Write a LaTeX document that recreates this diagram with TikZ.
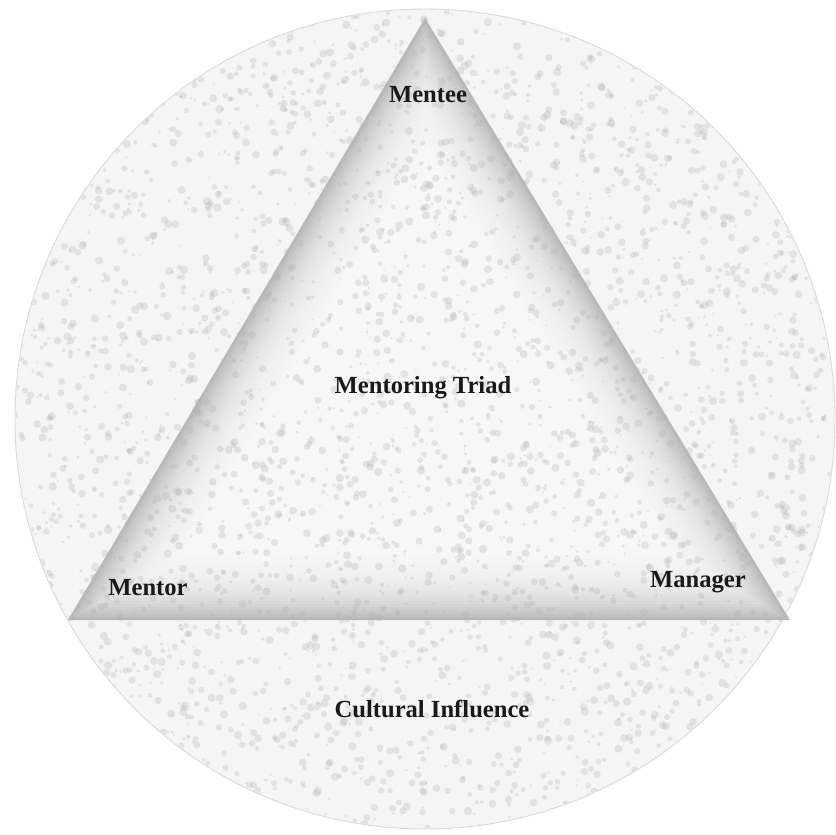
\documentclass[tikz,border=0pt]{standalone}
\usepackage{fontspec}
\setmainfont{Liberation Serif}
\usetikzlibrary{calc}

\begin{document}
\begin{tikzpicture}[
    x=0.03cm, y=-0.03cm,
    tag/.style={
        font=\fontsize{21}{24}\selectfont\bfseries,
        text=black!90,
        inner sep=1pt
    },
    ring/.style={
        fill=gray!8,
        draw=gray!28,
        line width=0.8pt
    },
    speck/.style={fill=gray!60, opacity=0.28}
]
\useasboundingbox (0,0) rectangle (835,835);

\coordinate (c) at (425,419);
\coordinate (top) at (425,18);
\coordinate (left) at (68,620);
\coordinate (right) at (790,620);
\coordinate (mid) at (428,419);

% outer circle
\fill[ring] (c) circle (410);

% triangle with inner glow
\fill[gray!55] (top) -- (left) -- (right) -- cycle;
\foreach \i in {1,...,20}{
    \pgfmathsetmacro\s{1-0.016*\i}
    \fill[white, opacity=0.13] ($(mid)!\s!(top)$) -- ($(mid)!\s!(left)$) -- ($(mid)!\s!(right)$) -- cycle;
}

% granite texture
\begin{scope}
    \clip (c) circle (409);
    \pgfmathsetseed{7}
    \foreach \k in {1,...,4200}{
        \fill[speck] ({rnd*835},{rnd*835}) circle ({1+rnd*3.2});
    }
\end{scope}

\node[tag] (mentee) at (428,95) {Mentee};
\node[tag] (triad) at (423,388) {Mentoring Triad};
\node[tag] (mentor) at (148,588) {Mentor};
\node[tag] (manager) at (698,582) {Manager};
\node[tag] (culture) at (432,709) {Cultural Influence};

\end{tikzpicture}
\end{document}
